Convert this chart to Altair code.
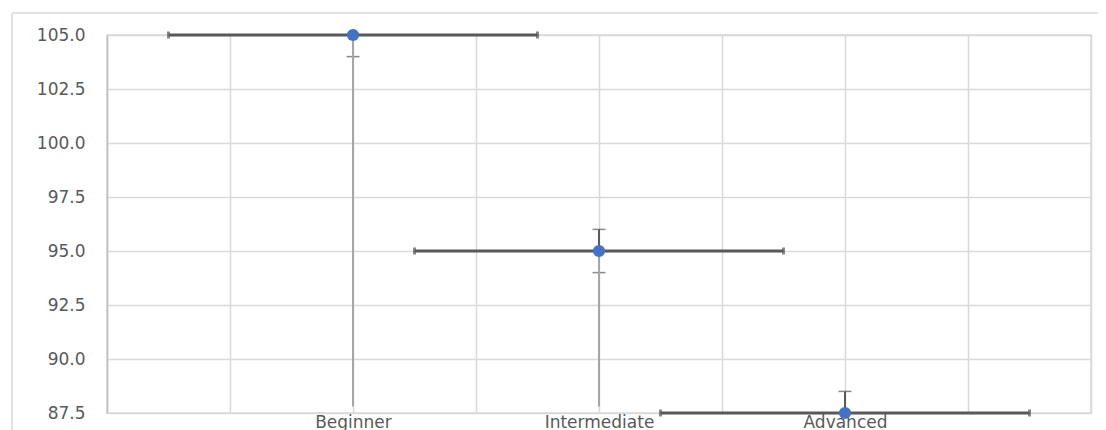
import altair as alt
import pandas as pd

categories = ["Beginner", "Intermediate", "Advanced"]
x_pos = [2, 4, 6]
means = [105.0, 95.0, 87.5]
x_err = [1.5, 1.5, 1.5]
y_err = [1.0, 1.0, 1.0]
drop_low = [87.8, 87.8, 87.5]

y_ticks = [87.5, 90.0, 92.5, 95.0, 97.5, 100.0, 102.5, 105.0]
x_ticks = [0, 1, 2, 3, 4, 5, 6, 7, 8]

df = pd.DataFrame({
    "cat": categories,
    "x": x_pos,
    "y": means,
    "xlo": [a - b for a, b in zip(x_pos, x_err)],
    "xhi": [a + b for a, b in zip(x_pos, x_err)],
    "ylo": [a - b for a, b in zip(means, y_err)],
    "yhi": [a + b for a, b in zip(means, y_err)],
    "dlo": drop_low,
})

label_expr = " : ".join(
    [f"datum.value == {p} ? '{c}'" for p, c in zip(x_pos, categories)]
) + " : ''"

FONT = "DejaVu Sans"
LABEL = "#595959"
DARK = "#595959"

xs = alt.Scale(domain=[0, 8], nice=False, zero=False)
ys = alt.Scale(domain=[87.5, 105], nice=False, zero=False)

base = alt.Chart(df)

x_enc = alt.X("x:Q", scale=xs, axis=alt.Axis(
    values=x_ticks, labelExpr=label_expr, title=None, ticks=False, domain=False,
    grid=True, gridColor="#D9D9D9", gridWidth=1.5, labelFont=FONT, labelFontSize=17,
    labelColor=LABEL, labelPadding=1, labelBaseline="top", labelFlush=False,
    labelOverlap=False))
y_enc = alt.Y("y:Q", scale=ys, axis=alt.Axis(
    values=y_ticks, format=".1f", title=None, ticks=False, domain=True,
    domainColor="#BFBFBF", domainWidth=1.5,
    grid=True, gridColor="#D9D9D9", gridWidth=1.5, labelFont=FONT, labelFontSize=17,
    labelColor=LABEL, labelPadding=22))

frame_df = pd.DataFrame({"k": [0]})
frame_top = alt.Chart(frame_df).mark_rule(color="#D9D9D9", strokeWidth=1.5).encode(
    x=alt.value(-95), x2=alt.value(1010), y=alt.value(-22))
frame_left = alt.Chart(frame_df).mark_rule(color="#D9D9D9", strokeWidth=1.5).encode(
    x=alt.value(-95), y=alt.value(-22), y2=alt.value(420))

points_axes = base.mark_point(opacity=0).encode(x=x_enc, y=y_enc)

hbar = base.mark_rule(color=DARK, strokeWidth=3).encode(
    x=alt.X("xlo:Q", scale=xs), x2="xhi:Q", y=alt.Y("y:Q", scale=ys))
hcap_lo = base.mark_tick(color=DARK, orient="vertical", size=7, thickness=3).encode(
    x=alt.X("xlo:Q", scale=xs), y=alt.Y("y:Q", scale=ys))
hcap_hi = base.mark_tick(color=DARK, orient="vertical", size=7, thickness=3).encode(
    x=alt.X("xhi:Q", scale=xs), y=alt.Y("y:Q", scale=ys))

vbar = base.mark_rule(color=DARK, strokeWidth=2, clip=True).encode(
    x=alt.X("x:Q", scale=xs), y=alt.Y("ylo:Q", scale=ys), y2="yhi:Q")
vcap_lo = base.mark_tick(color=DARK, orient="horizontal", size=13, thickness=1.5, clip=True).encode(
    x=alt.X("x:Q", scale=xs), y=alt.Y("ylo:Q", scale=ys))
vcap_hi = base.mark_tick(color=DARK, orient="horizontal", size=13, thickness=1.5, clip=True).encode(
    x=alt.X("x:Q", scale=xs), y=alt.Y("yhi:Q", scale=ys))

drop = base.mark_rule(color="#A6A6A6", strokeWidth=2, clip=True).encode(
    x=alt.X("x:Q", scale=xs), y=alt.Y("y:Q", scale=ys), y2="dlo:Q")

pts = base.mark_point(filled=True, color="#4472C4", opacity=1, size=150).encode(
    x=alt.X("x:Q", scale=xs), y=alt.Y("y:Q", scale=ys))

chart = alt.layer(
    frame_top, frame_left, points_axes, hbar, hcap_lo, hcap_hi,
    vbar, vcap_lo, vcap_hi, drop, pts
).properties(
    width=984, height=378,
    autosize=alt.AutoSizeParams(type="none"),
    padding={"left": 99, "top": 27, "right": 7, "bottom": 17},
    background="white",
).configure_view(stroke="#D9D9D9", strokeWidth=1.5)

chart.save("out.html", embed_options={"renderer": "svg", "actions": False})
